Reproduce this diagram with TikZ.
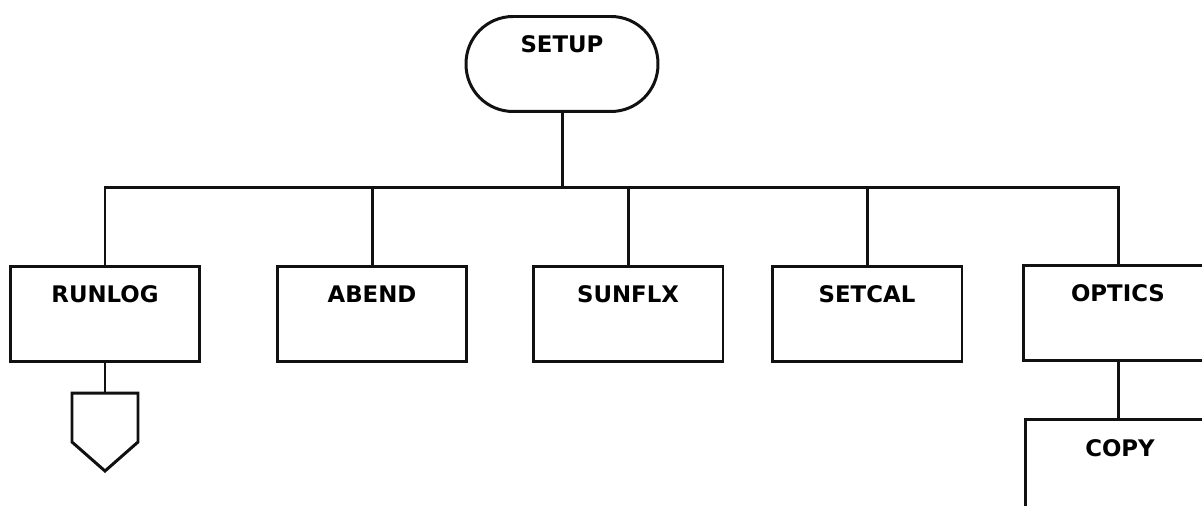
\documentclass[tikz,border=0pt]{standalone}
\usepackage{fontspec}
\setmainfont{DejaVu Sans}
\usetikzlibrary{positioning}
\definecolor{chartink}{HTML}{111111}
\tikzset{
  modbox/.style ={draw=chartink, line width=1.7pt, anchor=north,
                  minimum width=3.8cm, inner xsep=0pt, inner ysep=0.39cm,
                  text height=0.34cm, text depth=0.78cm,
                  font=\bfseries\fontsize{13}{15}\selectfont},
  termbox/.style={modbox, rounded corners=0.94cm, minimum width=3.84cm},
  link/.style   ={draw=chartink, line width=1.7pt},
  offpage/.style={draw=chartink, line width=1.7pt, line join=miter},
}

\begin{document}
\begin{tikzpicture}[x=0.02cm, y=-0.02cm]
  \clip (0,0) rectangle (1202,505);

  % ---- top of the chart ---------------------------------------------------
  \node[termbox] (setup) at (562,15) {SETUP};
  \coordinate (bus) at (562,187);

  % ---- second level -------------------------------------------------------
  \node[modbox] (runlog) at (105,265) {RUNLOG};
  \node[modbox] (abend)  at (372,265) {ABEND};
  \node[modbox] (sunflx) at (628,265) {SUNFLX};
  \node[modbox] (setcal) at (867,265) {SETCAL};
  \node[modbox] (optics) at (1118,264) {OPTICS};

  % ---- below ---------------------------------------------------------------
  \node[modbox] (copy) at (1120,418) {COPY};
  \coordinate (pagetop) at (105,393);
  \draw[offpage] (pagetop) -- (138,393) -- (138,442) -- (105,471)
    -- (72,442) -- (72,393) -- cycle;

  % ---- connectors ----------------------------------------------------------
  \draw[link] (setup.south) -- (bus);
  \draw[link] (runlog.north) -- (runlog.north |- bus)
    -- (optics.north |- bus) -- (optics.north);
  \draw[link] (abend.north) -- (abend.north |- bus);
  \draw[link] (sunflx.north) -- (sunflx.north |- bus);
  \draw[link] (setcal.north) -- (setcal.north |- bus);
  \draw[link] (runlog.south) -- (pagetop);
  \draw[link] (optics.south) -- (optics.south |- copy.north);
\end{tikzpicture}
\end{document}
